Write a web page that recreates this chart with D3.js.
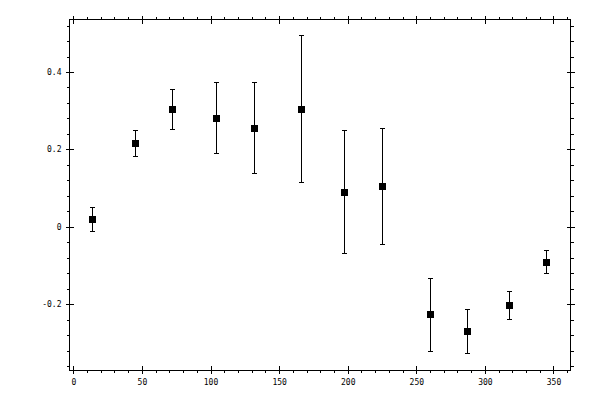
<!DOCTYPE html>
<html>
<head>
<meta charset="utf-8">
<script src="https://cdn.jsdelivr.net/npm/d3@7"></script>
<style>
  body { margin: 0; background: #fff; }
  svg { display: block; }
  .axis path, .axis line { stroke: #000; stroke-width: 1; shape-rendering: crispEdges; }
  .axis text { font-family: "DejaVu Sans Mono", monospace; font-size: 8px; fill: #000; }
</style>
</head>
<body>
<svg class="chart"></svg>
<script>
// data
var angles = [14, 45, 72, 104, 132, 166, 198, 225, 260, 287, 318, 345];
var values = [0.020, 0.216, 0.304, 0.281, 0.255, 0.304, 0.090, 0.105, -0.227, -0.270, -0.203, -0.091];
var errors = [0.031, 0.034, 0.052, 0.091, 0.117, 0.190, 0.158, 0.150, 0.094, 0.057, 0.035, 0.029];
var xMajor = [0, 50, 100, 150, 200, 250, 300, 350];
var yMajor = [-0.2, 0, 0.2, 0.4];
var yLabels = ["-0.2", "0", "0.2", "0.4"];

var width = 600, height = 400;
var plotLeft = 69.5, plotRight = 570.5, plotTop = 19.5, plotBottom = 370;

var x = d3.scaleLinear().domain([-2.8, 362.4]).range([plotLeft, plotRight]);
var y = d3.scaleLinear().domain([-0.3697, 0.5356]).range([plotBottom, plotTop]);

var xMinor = d3.range(0, 361, 10);
var yMinor = d3.range(-9, 14).map(function (i) { return i * 0.04; });

var svg = d3.select("svg.chart").attr("width", width).attr("height", height);

// frame
svg.append("rect")
    .attr("x", plotLeft).attr("y", plotTop)
    .attr("width", plotRight - plotLeft).attr("height", plotBottom - plotTop)
    .attr("fill", "none").attr("stroke", "#000")
    .attr("shape-rendering", "crispEdges");

function addAxis(axis, tx, ty) {
    var g = svg.append("g").attr("class", "axis")
        .attr("transform", "translate(" + tx + "," + ty + ")")
        .call(axis);
    g.select(".domain").remove();
    return g;
}

// bottom
addAxis(d3.axisBottom(x).tickValues(xMinor).tickSize(3).tickFormat(""), 0, plotBottom);
addAxis(d3.axisBottom(x).tickValues(xMajor).tickSize(-4).tickFormat(""), 0, plotBottom);
addAxis(d3.axisBottom(x).tickValues(xMajor).tickSize(4).tickPadding(5).tickFormat(d3.format("d")), 0, plotBottom);
// top
addAxis(d3.axisTop(x).tickValues(xMinor).tickSize(3).tickFormat(""), 0, plotTop);
addAxis(d3.axisTop(x).tickValues(xMajor).tickSize(4).tickFormat(""), 0, plotTop);
addAxis(d3.axisTop(x).tickValues(xMajor).tickSize(-4).tickFormat(""), 0, plotTop);
// left
addAxis(d3.axisLeft(y).tickValues(yMinor).tickSize(3).tickFormat(""), plotLeft, 0);
addAxis(d3.axisLeft(y).tickValues(yMajor).tickSize(-4).tickFormat(""), plotLeft, 0);
addAxis(d3.axisLeft(y).tickValues(yMajor).tickSize(4).tickPadding(4)
    .tickFormat(function (d, i) { return yLabels[i]; }), plotLeft, 0);
// right
addAxis(d3.axisRight(y).tickValues(yMinor).tickSize(3).tickFormat(""), plotRight, 0);
addAxis(d3.axisRight(y).tickValues(yMajor).tickSize(4).tickFormat(""), plotRight, 0);
addAxis(d3.axisRight(y).tickValues(yMajor).tickSize(-4).tickFormat(""), plotRight, 0);

var data = angles.map(function (a, i) { return { a: a, v: values[i], e: errors[i] }; });

var pts = svg.append("g").selectAll("g").data(data).enter().append("g")
    .attr("stroke", "#000").attr("shape-rendering", "crispEdges");

pts.append("line")
    .attr("x1", function (d) { return x(d.a); }).attr("x2", function (d) { return x(d.a); })
    .attr("y1", function (d) { return y(d.v + d.e); }).attr("y2", function (d) { return y(d.v - d.e); });
pts.append("line")
    .attr("x1", function (d) { return x(d.a) - 2.5; }).attr("x2", function (d) { return x(d.a) + 2.5; })
    .attr("y1", function (d) { return y(d.v + d.e); }).attr("y2", function (d) { return y(d.v + d.e); });
pts.append("line")
    .attr("x1", function (d) { return x(d.a) - 2.5; }).attr("x2", function (d) { return x(d.a) + 2.5; })
    .attr("y1", function (d) { return y(d.v - d.e); }).attr("y2", function (d) { return y(d.v - d.e); });
pts.append("rect")
    .attr("x", function (d) { return x(d.a) - 3.5; })
    .attr("y", function (d) { return y(d.v) - 3.5; })
    .attr("width", 7).attr("height", 7)
    .attr("fill", "#000").attr("stroke", "none");
</script>
</body>
</html>
